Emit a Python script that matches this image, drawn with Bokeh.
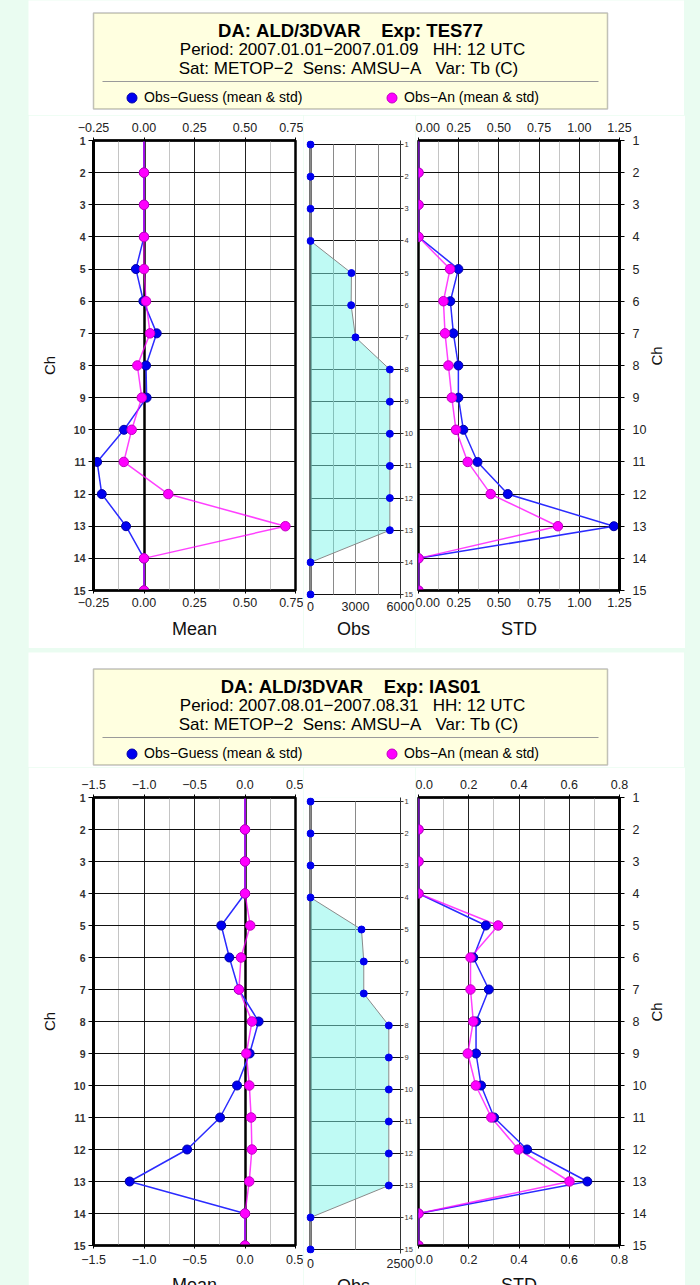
import math
from bokeh.plotting import figure
from bokeh.models import (Range1d, LinearAxis, FixedTicker, Grid, Label, BoxAnnotation,
                          CustomJSTickFormatter, Legend, LegendItem, Spacer)
from bokeh.layouts import column, row
from bokeh.embed import file_html
from bokeh.resources import INLINE

FONT = "Liberation Sans"

# ---------------- data ----------------
channels = list(range(1, 16))
legend_labels = ["Obs\u2212Guess (mean & std)", "Obs\u2212An (mean & std)"]
panel_xlabels = ["Mean", "Obs", "STD"]
ch_label = "Ch"

# panel 1
p1_title = "DA: ALD/3DVAR    Exp: TES77"
p1_period = "Period: 2007.01.01\u22122007.01.09   HH: 12 UTC"
p1_sat = "Sat: METOP\u22122  Sens: AMSU\u2212A   Var: Tb (C)"
p1_mean_guess = [0, 0, 0, 0, -0.04, -0.003, 0.063, 0.01, 0.013, -0.099, -0.232, -0.209, -0.089, 0, 0]
p1_mean_an = [0, 0, 0, 0, 0.0, 0.01, 0.03, -0.033, -0.011, -0.061, -0.10, 0.12, 0.70, 0, 0]
p1_obs = [0, 0, 0, 0, 2730, 2710, 3000, 5290, 5290, 5290, 5290, 5290, 5290, 0, 0]
p1_std_guess = [0, 0, 0, 0, 0.248, 0.198, 0.217, 0.248, 0.248, 0.279, 0.367, 0.555, 1.215, 0, 0]
p1_std_an = [0, 0, 0, 0, 0.196, 0.155, 0.165, 0.186, 0.207, 0.233, 0.306, 0.449, 0.867, 0, 0]
p1_mean_ticks = [-0.25, 0.0, 0.25, 0.5, 0.75]
p1_mean_minor = [-0.125, 0.125, 0.375, 0.625]
p1_std_ticks = [0.0, 0.25, 0.5, 0.75, 1.0, 1.25]
p1_std_minor = [0.125, 0.375, 0.625, 0.875, 1.125]
p1_obs_labels = [0, 3000, 6000]
p1_obs_grid = [1500, 3000, 4500]

# panel 2
p2_title = "DA: ALD/3DVAR    Exp: IAS01"
p2_period = "Period: 2007.08.01\u22122007.08.31   HH: 12 UTC"
p2_sat = "Sat: METOP\u22122  Sens: AMSU\u2212A   Var: Tb (C)"
p2_mean_guess = [0, 0, 0, 0, -0.235, -0.155, -0.062, 0.135, 0.046, -0.079, -0.247, -0.573, -1.142, 0, 0]
p2_mean_an = [0, 0, 0, 0, 0.052, -0.04, -0.06, 0.069, 0.013, 0.043, 0.061, 0.068, 0.042, 0, 0]
p2_obs = [0, 0, 0, 0, 1417, 1480, 1480, 2175, 2175, 2175, 2175, 2175, 2175, 0, 0]
p2_std_guess = [0, 0, 0, 0, 0.268, 0.218, 0.28, 0.229, 0.229, 0.249, 0.301, 0.432, 0.672, 0, 0]
p2_std_an = [0, 0, 0, 0, 0.317, 0.207, 0.207, 0.218, 0.196, 0.228, 0.29, 0.398, 0.601, 0, 0]
p2_mean_ticks = [-1.5, -1.0, -0.5, 0.0, 0.5]
p2_mean_minor = [-1.25, -0.75, -0.25, 0.25]
p2_std_ticks = [0.0, 0.2, 0.4, 0.6, 0.8]
p2_std_minor = [0.1, 0.3, 0.5, 0.7]
p2_obs_labels = [0, 2500]
p2_obs_grid = [1250]

# ---------------- style ----------------
BLUE = "#0000f0"
BLUE_EDGE = "#0000a8"
BLUE_LINE = "#2b2bff"
PINK = "#ff00ff"
PINK_EDGE = "#c000c0"
PINK_LINE = "#ff00ff"
CYAN = "#80f5ea"
MINT = "#eafcf1"
BOXFILL = "#ffffe0"


def nb(s):
    return s.replace(" ", "\u00a0")


def fmt(d):
    return CustomJSTickFormatter(code="return tick.toFixed(%d).replace('-', '\u2212');" % d)


def style_axis(ax, size="12.5px", bold=False, tick_out=3, standoff=3, lw=2.0,
               color="black", label_color="#222"):
    ax.major_label_text_font = FONT
    ax.major_label_text_font_size = size
    ax.major_label_text_font_style = "bold" if bold else "normal"
    ax.major_label_text_color = label_color
    ax.major_tick_out = tick_out
    ax.major_tick_in = 0
    ax.minor_tick_out = 0
    ax.minor_tick_in = 0
    ax.minor_tick_line_color = None
    ax.major_label_standoff = standoff
    ax.axis_line_width = lw
    ax.axis_line_color = color
    ax.major_tick_line_color = color
    ax.major_tick_line_width = 1
    ax.axis_label_text_font = FONT
    ax.axis_label_text_font_style = "normal"
    ax.axis_label_text_color = "#111"
    return ax


def add_grid(p, dim, ticks, minor=None, color="#222", width=1.0, minor_color=None, cross=None):
    g = Grid(dimension=dim, ticker=FixedTicker(ticks=ticks, minor_ticks=minor or []),
             grid_line_color=color, grid_line_width=width, minor_grid_line_color=minor_color)
    if cross is not None:
        g.cross_bounds = cross
    p.add_layout(g, "center")


def new_fig(xr, yr, fw, fh, bl, br, bt, bb):
    p = figure(x_range=xr, y_range=yr, frame_width=fw, frame_height=fh,
               min_border_left=bl, min_border_right=br, min_border_top=bt, min_border_bottom=bb,
               x_axis_location=None, y_axis_location=None,
               toolbar_location=None, tools="", output_backend="svg")
    p.grid.visible = False
    p.outline_line_color = None
    p.background_fill_color = "white"
    p.border_fill_color = "white"
    return p


def profile_pair(p, guess, an):
    p.line(x=guess, y=channels, line_color=BLUE_LINE, line_width=1.5)
    p.line(x=an, y=channels, line_color=PINK_LINE, line_width=1.5, line_alpha=0.75)
    p.scatter(x=guess[1:], y=channels[1:], size=9, fill_color=BLUE, line_color=BLUE_EDGE)
    p.scatter(x=an[1:], y=channels[1:], size=9.5, fill_color=PINK, line_color=PINK_EDGE)


def top_bottom_axes(p, ticks, digits, xlabel, bot_standoff, lab_standoff):
    ax = LinearAxis(ticker=FixedTicker(ticks=ticks, minor_ticks=[]), formatter=fmt(digits))
    style_axis(ax, tick_out=3, standoff=6, lw=2)
    p.add_layout(ax, "above")
    ax = LinearAxis(ticker=FixedTicker(ticks=ticks, minor_ticks=[]), formatter=fmt(digits),
                    axis_label=xlabel)
    style_axis(ax, tick_out=3, standoff=bot_standoff, lw=2)
    ax.axis_label_text_font_size = "18px"
    ax.axis_label_standoff = lab_standoff
    p.add_layout(ax, "below")


def make_plots(mean_g, mean_a, mean_ticks, mean_minor, mean_digits,
               obs, obs_labels, obs_grid,
               std_g, std_a, std_ticks, std_minor, std_digits,
               bt, fh, bb, bot_standoff, lab_standoff, obs_lab_standoff):
    # ---- Mean
    pm = new_fig(Range1d(mean_ticks[0], mean_ticks[-1]), Range1d(15, 1), 202, fh, 65, 8, bt, bb)
    pm.outline_line_color = "black"
    pm.outline_line_width = 2.5
    add_grid(pm, 0, mean_ticks, mean_minor, "#222", 1, "#c4c4c4")
    add_grid(pm, 1, channels, None, "#111", 1)
    add_grid(pm, 0, [0], None, "black", 2.5)
    ax = LinearAxis(ticker=FixedTicker(ticks=channels, minor_ticks=[]), axis_label=ch_label)
    style_axis(ax, size="10.5px", bold=True, tick_out=5, standoff=3, lw=3, label_color="#333")
    ax.axis_label_text_font_size = "15px"
    ax.axis_label_standoff = 13
    pm.add_layout(ax, "left")
    top_bottom_axes(pm, mean_ticks, mean_digits, panel_xlabels[0], bot_standoff, lab_standoff)
    profile_pair(pm, mean_g, mean_a)

    # ---- Obs
    xmax = obs_labels[-1]
    pad = 4
    xs = -xmax * pad / 90.0
    pc = pad * 14.0 / fh
    po = new_fig(Range1d(xs, xmax), Range1d(15 + pc, 1 - pc), 94, fh + 2 * pad,
                 3, 14, bt - pad, bb - pad)
    add_grid(po, 1, channels, None, "#111", 1, cross=(0, xmax))
    add_grid(po, 0, obs_grid, None, "#8a8a8a", 1, cross=(1, 15))
    add_grid(po, 0, [0], None, "#444", 2.5, cross=(1, 15))
    ax = LinearAxis(ticker=FixedTicker(ticks=channels, minor_ticks=[]))
    style_axis(ax, size="7.5px", tick_out=3, standoff=1, lw=1, color="#333", label_color="#333")
    po.add_layout(ax, "right")
    ax = LinearAxis(ticker=FixedTicker(ticks=obs_labels, minor_ticks=[]), formatter=fmt(0),
                    axis_label=panel_xlabels[1])
    style_axis(ax, tick_out=0, standoff=bot_standoff - 1, lw=1)
    ax.axis_line_color = None
    ax.major_tick_line_color = None
    ax.axis_label_text_font_size = "18px"
    ax.axis_label_standoff = obs_lab_standoff
    po.add_layout(ax, "below")
    po.harea(x1=0, x2=obs, y=channels, fill_color=CYAN, fill_alpha=0.5)
    po.line(x=obs, y=channels, line_color="#8a8a8a", line_width=1)
    po.scatter(x=obs, y=channels, size=7, fill_color=BLUE, line_color=BLUE)

    # ---- STD
    ps = new_fig(Range1d(std_ticks[0], std_ticks[-1]), Range1d(15, 1), 201, fh, 3, 66, bt, bb)
    ps.outline_line_color = "black"
    ps.outline_line_width = 2.5
    add_grid(ps, 0, std_ticks, std_minor, "#222", 1, "#c4c4c4")
    add_grid(ps, 1, channels, None, "#111", 1)
    ax = LinearAxis(ticker=FixedTicker(ticks=channels, minor_ticks=[]), axis_label=ch_label)
    style_axis(ax, size="12.5px", tick_out=5, standoff=8, lw=3, label_color="#222")
    ax.axis_label_text_font_size = "15px"
    ax.axis_label_standoff = 7
    ax.axis_label_orientation = math.pi / 2
    ps.add_layout(ax, "right")
    top_bottom_axes(ps, std_ticks, std_digits, panel_xlabels[2], bot_standoff, lab_standoff)
    profile_pair(ps, std_g, std_a)
    return row(pm, po, ps)


def make_header(title, period, sat, dy):
    W, H = 656, 115
    h = figure(width=W, height=H, x_range=Range1d(0, W), y_range=Range1d(0, H), min_border=0,
               x_axis_location=None, y_axis_location=None,
               toolbar_location=None, tools="", output_backend="svg")
    h.grid.visible = False
    h.outline_line_color = None
    h.background_fill_color = "white"
    h.border_fill_color = "white"

    def Y(v):
        return H - (v + dy)

    h.add_layout(BoxAnnotation(left=65, right=579, top=Y(12.5), bottom=Y(108.5),
                               fill_color=BOXFILL, fill_alpha=1, line_color="#333", line_width=1.5))
    h.add_layout(BoxAnnotation(left=74, right=570, top=Y(80.5), bottom=Y(81.5),
                               fill_color="#9a9a9a", fill_alpha=1, line_color=None))
    h.add_layout(Label(x=322, y=Y(29.7), text=nb(title), text_font=FONT, text_font_size="18.5px",
                       text_font_style="bold", text_align="center", text_baseline="middle",
                       text_color="black"))
    h.add_layout(Label(x=324, y=Y(49), text=nb(period), text_font=FONT, text_font_size="17px",
                       text_align="center", text_baseline="middle", text_color="black"))
    h.add_layout(Label(x=320, y=Y(67.5), text=nb(sat), text_font=FONT, text_font_size="17px",
                       text_align="center", text_baseline="middle", text_color="black"))
    nan = float("nan")
    rg = h.scatter(x=[nan], y=[nan], fill_color=BLUE, line_color=BLUE_EDGE)
    ra = h.scatter(x=[nan], y=[nan], fill_color=PINK, line_color=PINK_EDGE)
    for r, lab, gx in ((rg, legend_labels[0], 91), (ra, legend_labels[1], 351)):
        lg = Legend(items=[LegendItem(label=nb(lab), renderers=[r])],
                    location=(gx, Y(97.3) - 12.5), orientation="vertical",
                    padding=0, margin=0, spacing=0, glyph_width=25, glyph_height=25,
                    label_height=25, label_standoff=0, label_text_font=FONT,
                    label_text_font_size="14px", label_text_color="black",
                    background_fill_alpha=0, border_line_color=None)
        h.add_layout(lg)
    return h


panel1 = column(
    make_header(p1_title, p1_period, p1_sat, 0),
    make_plots(p1_mean_guess, p1_mean_an, p1_mean_ticks, p1_mean_minor, 2,
               p1_obs, p1_obs_labels, p1_obs_grid,
               p1_std_guess, p1_std_an, p1_std_ticks, p1_std_minor, 2,
               25, 450, 58, 4, 9, 5),
)
panel2 = column(
    make_header(p2_title, p2_period, p2_sat, 4),
    make_plots(p2_mean_guess, p2_mean_an, p2_mean_ticks, p2_mean_minor, 1,
               p2_obs, p2_obs_labels, p2_obs_grid,
               p2_std_guess, p2_std_an, p2_std_ticks, p2_std_minor, 1,
               30, 448, 40, 6, 8, 5),
)

page = column(
    row(Spacer(width=28, height=648), panel1, Spacer(width=16, height=648)),
    Spacer(width=700, height=4),
    row(Spacer(width=28, height=633), panel2, Spacer(width=16, height=633)),
    width=700, height=1285,
    styles={"background-color": MINT, "overflow": "hidden"},
)

open("out.html", "w", encoding="utf-8").write(file_html(page, INLINE, title="AMSU-A statistics"))
